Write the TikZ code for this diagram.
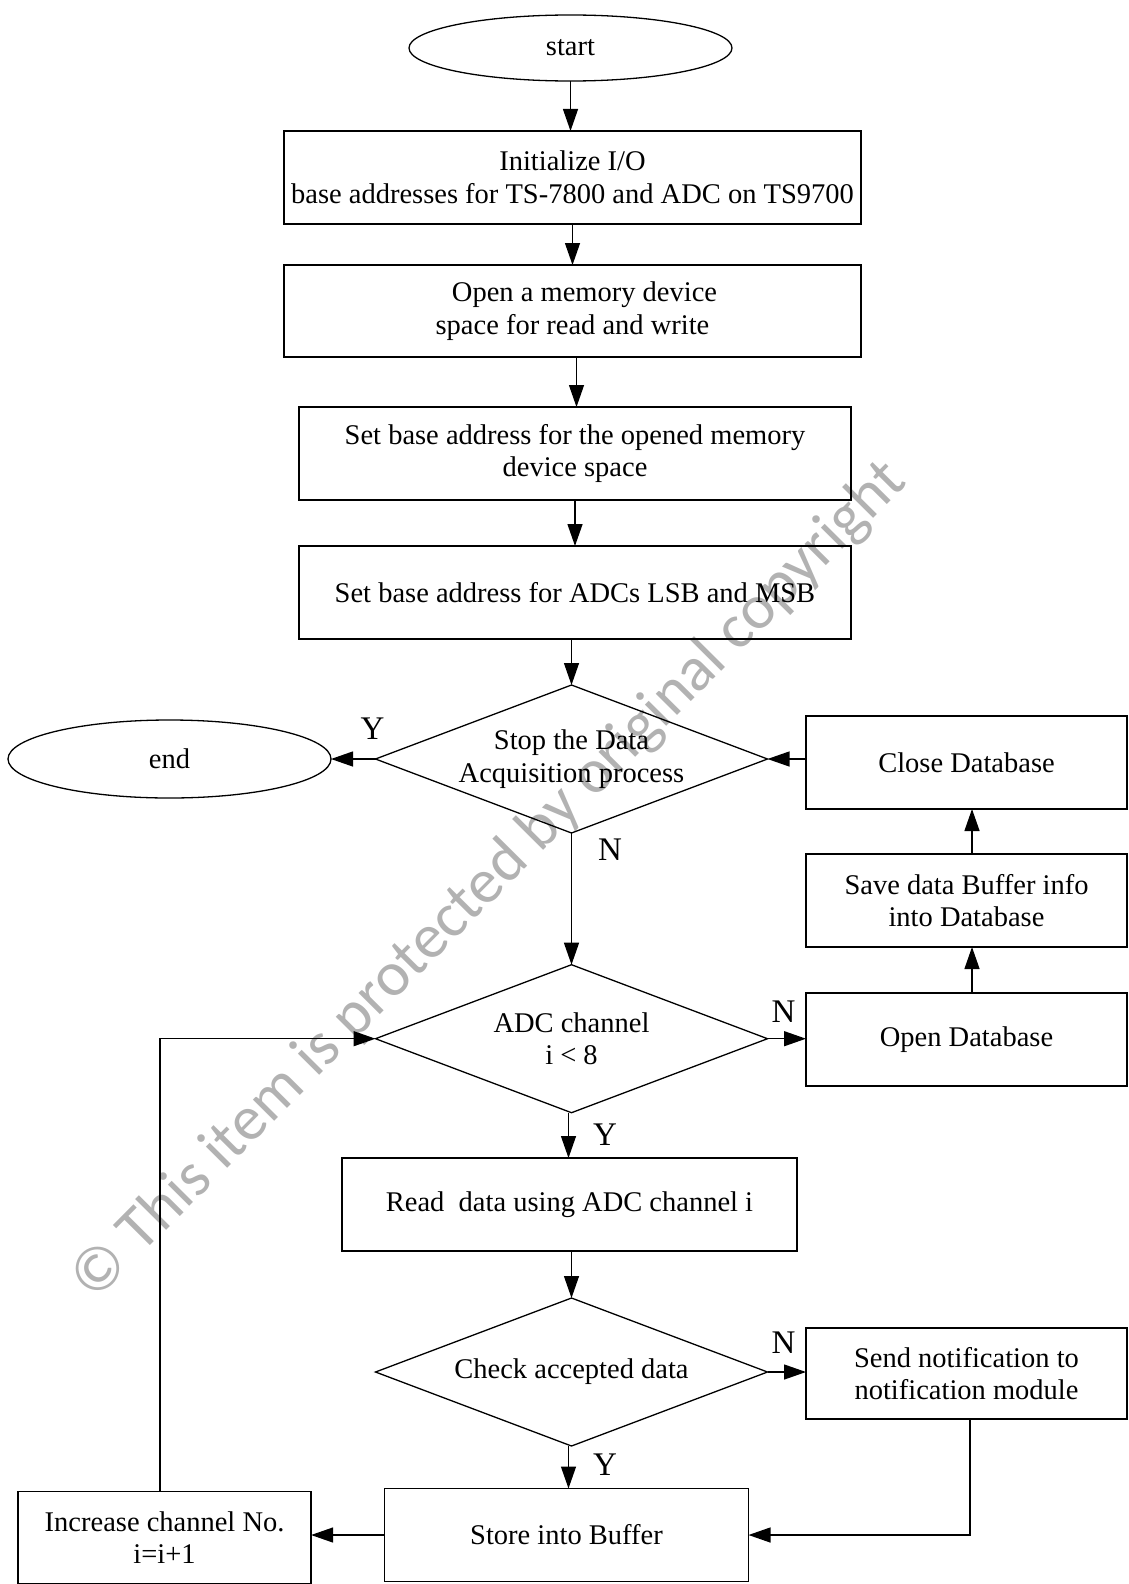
\documentclass[tikz,border=0pt]{standalone}
\usepackage{fontspec}
\setmainfont{Liberation Serif}
\newfontfamily\wmfont{Carlito}
\usetikzlibrary{shapes.geometric,arrows.meta}
\definecolor{wmgray}{RGB}{178,178,178}
\begin{document}
\begin{tikzpicture}[x=1pt,y=-1pt,
  every node/.style={font=\fontsize{28.5}{32.5}\selectfont, outer sep=0pt},
  box/.style={draw, line width=1.3pt, rectangle, align=center, inner sep=0pt},
  dia/.style={draw, line width=1.3pt, diamond, inner sep=0pt, minimum width=392pt, minimum height=148pt},
  term/.style={draw, line width=1.3pt, ellipse, inner sep=0pt},
  lab/.style={font=\fontsize{33}{36}\selectfont, inner sep=0pt},
  arr/.style={line width=1.3pt, -{Triangle[length=22pt,width=15pt]}},
  ln/.style={line width=1.3pt}]
\useasboundingbox (0,0) rectangle (1129,1584);

% watermark (behind everything)
\node[font=\wmfont\fontsize{63}{66}\selectfont, text=wmgray, rotate=45.2, inner sep=0pt] (wm) at (490,881) {© This item is protected by original copyright};

% nodes
\node[term, minimum width=323pt, minimum height=66pt] (start) at (570.5,48) {start};
\node[box, minimum width=577pt, minimum height=93pt] (init) at (572.5,177.5) {Initialize I/O\\base addresses for TS-7800 and ADC on TS9700};
\node[box, minimum width=577pt, minimum height=92pt] (open) at (572.5,311) {\hspace*{24pt}Open a memory device\\space for read and write};
\node[box, minimum width=552pt, minimum height=93pt] (setb) at (575,453.5) {Set base address for the opened memory\\device space};
\node[box, minimum width=552pt, minimum height=93pt] (adcs) at (575,592.5) {Set base address for ADCs LSB and MSB};
\node[dia] (stop) at (571.5,759) {};
\node[align=center] (stoptxt) at (stop) {Stop the Data\\Acquisition process};
\node[term, minimum width=323pt, minimum height=78pt] (endn) at (169.5,759) {end};
\node[box, minimum width=321pt, minimum height=93pt] (close) at (966.5,762.5) {Close Database};
\node[box, minimum width=321pt, minimum height=93pt] (save) at (966.5,900.5) {Save data Buffer info\\into Database};
\node[box, minimum width=321pt, minimum height=93pt] (opendb) at (966.5,1039.5) {Open Database};
\node[dia] (adc) at (571.5,1038.7) {};
\node[align=center] (adctxt) at (adc) {ADC channel\\i < 8};
\node[box, minimum width=455pt, minimum height=93pt] (read) at (569.5,1204.5) {Read\ \ data using ADC channel i};
\node[dia] (check) at (571.5,1372) {};
\node (checktxt) at (check) {Check accepted data};
\node[box, minimum width=321pt, minimum height=91pt] (send) at (966.5,1373.5) {Send notification to\\notification module};
\node[box, minimum width=364pt, minimum height=93pt] (store) at (566.5,1535) {Store into Buffer};
\node[box, minimum width=293pt, minimum height=92pt] (incr) at (164.6,1537.5) {Increase channel No.\\i=i+1};

% labels
\node[lab] (y1) at (372.6,729) {Y};
\node[lab] (n1) at (610,850) {N};
\node[lab] (n2) at (783.6,1012) {N};
\node[lab] (y2) at (605,1135) {Y};
\node[lab] (n3) at (783.6,1343) {N};
\node[lab] (y3) at (605,1465) {Y};

% connectors
\draw[arr] (start.south) -- (start.south |- init.north);
\draw[arr] (init.south) -- (open.north);
\draw[arr] ([xshift=4pt]open.south) -- ([xshift=4pt]open.south |- setb.north);
\draw[arr] (setb.south) -- (adcs.north);
\draw[arr] (adcs.south -| stop.north) -- (stop.north);
\draw[arr] (stop.west) -- (endn.east);
\draw[arr] (close.west |- stop.east) -- (stop.east);
\draw[arr] (stop.south) -- (adc.north);
\draw[arr] (adc.east) -- (adc.east -| opendb.west);
\draw[arr] ([xshift=5.5pt]opendb.north) -- ([xshift=5.5pt]save.south);
\draw[arr] ([xshift=5.5pt]save.north) -- ([xshift=5.5pt]close.south);
\draw[arr] ([xshift=-3pt]adc.south) -- ([xshift=-3pt]adc.south |- read.north);
\draw[arr] (read.south -| check.north) -- (check.north);
\draw[arr] (check.east) -- (check.east -| send.west);
\draw[arr] ([xshift=-3pt]check.south) -- ([xshift=-3pt]check.south |- store.north);
\draw[arr] ([xshift=3.5pt]send.south) -- ([xshift=3.5pt]send.south |- store.east) -- (store.east);
\draw[arr] (store.west) -- (store.west -| incr.east);
\draw[arr] ([xshift=-4.5pt]incr.north) -- ([xshift=-4.5pt]incr.north |- adc.west) -- (adc.west);
\end{tikzpicture}
\end{document}
